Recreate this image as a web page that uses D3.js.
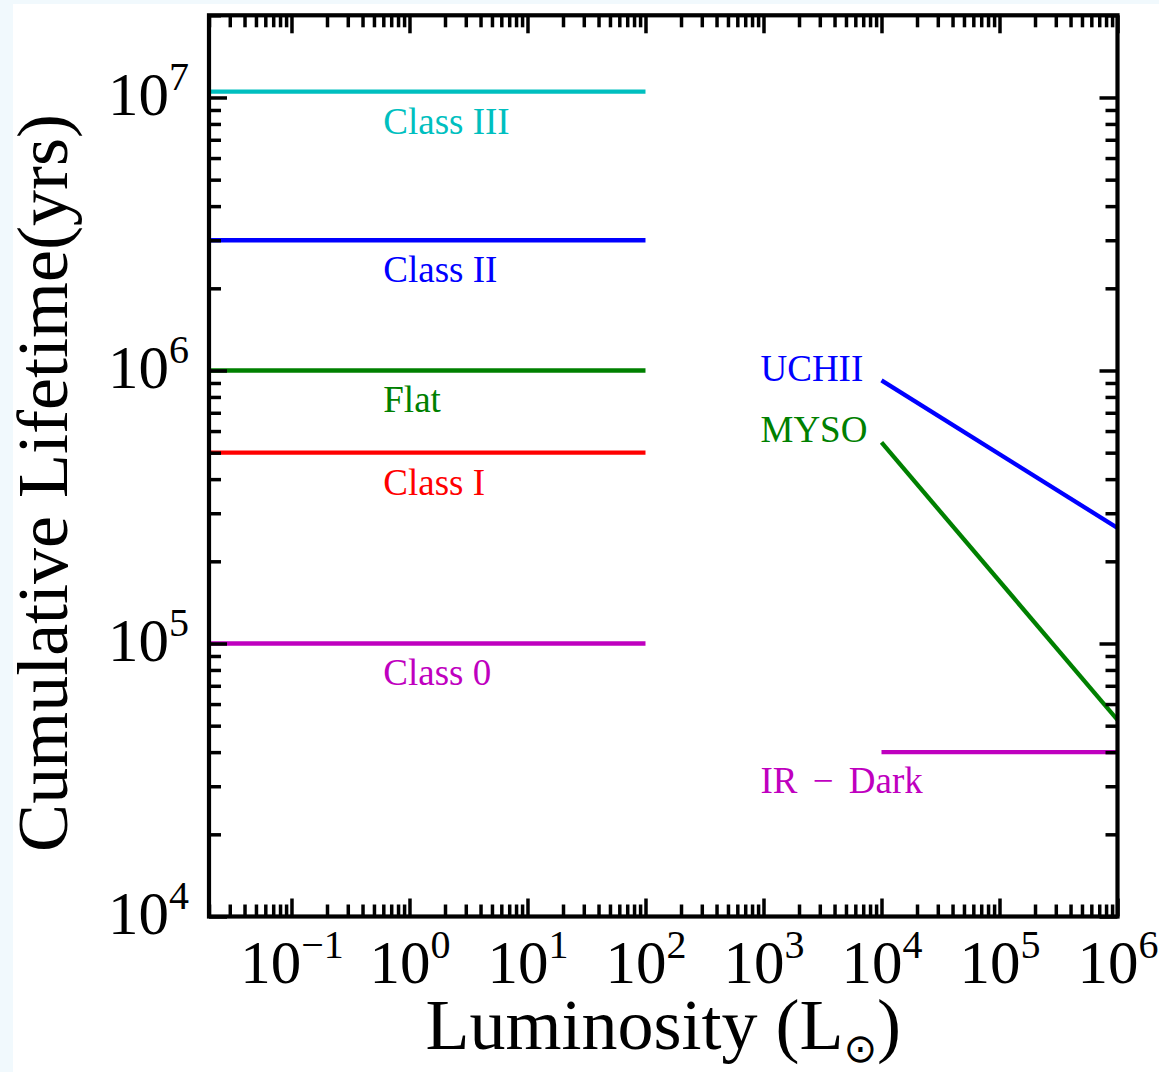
<!DOCTYPE html>
<html>
<head>
<meta charset="utf-8">
<script src="https://cdn.jsdelivr.net/npm/d3@7"></script>
<style>
  html, body { margin: 0; padding: 0; background: #f1f9fd; }
  svg { display: block; }
</style>
</head>
<body>
<svg id="chart" width="1159" height="1072"></svg>
<script>
// Low-luminosity YSO classes: constant cumulative lifetimes up to 100 Lsun
const yscClasses = ["Class III", "Class II", "Flat", "Class I", "Class 0"];
const yscLifetimes = [1.05e7, 3e6, 1e6, 5e5, 1e5];
const yscLumRange = [0.02, 100];
const yscColors = ["#00bfbf", "#0000ff", "#008000", "#ff0000", "#bf00bf"];

// Massive star-formation phases: lifetime at the two ends of the luminosity range
const massivePhases = ["UCHII", "MYSO", "IR \u2212 Dark"];
const massiveLumRange = [1e4, 1e6];
const massiveLifetimeLow = [9.2e5, 5.45e5, 4e4];
const massiveLifetimeHigh = [2.65e5, 5.25e4, 4e4];
const massiveColors = ["#0000ff", "#008000", "#bf00bf"];

// Axis decades
const xMajorExponents = [-1, 0, 1, 2, 3, 4, 5, 6];
const yMajorExponents = [4, 5, 6, 7];
const xDomain = [0.02, 1e6];
const yDomain = [1e4, 2e7];

const W = 1159, H = 1072;
const plot = { left: 209, right: 1117.5, top: 15.3, bottom: 916.5 };
const FONT = "'Liberation Serif', 'Times New Roman', serif";

const svg = d3.select("#chart");

// page background with a faint tinted margin
svg.append("rect").attr("width", W).attr("height", H).attr("fill", "#f1f9fd");
svg.append("rect").attr("x", 13).attr("y", 4).attr("width", W - 13).attr("height", H - 4).attr("fill", "#ffffff");

const x = d3.scaleLog().domain(xDomain).range([plot.left, plot.right]);
const y = d3.scaleLog().domain(yDomain).range([plot.bottom, plot.top]);

const clipId = "plot-clip";
svg.append("clipPath").attr("id", clipId).append("rect")
  .attr("x", plot.left).attr("y", plot.top)
  .attr("width", plot.right - plot.left).attr("height", plot.bottom - plot.top);

const line = d3.line().x(d => x(d[0])).y(d => y(d[1]));
const marks = svg.append("g").attr("clip-path", `url(#${clipId})`);

// horizontal lifetime lines for the low-mass classes
yscClasses.forEach((name, i) => {
  const v = yscLifetimes[i];
  marks.append("path")
    .datum([[yscLumRange[0], v], [yscLumRange[1], v]])
    .attr("d", line)
    .attr("fill", "none").attr("stroke", yscColors[i]).attr("stroke-width", 4.3);
  svg.append("text")
    .attr("x", x(0.6)).attr("y", y(v) + 42)
    .attr("font-family", FONT).attr("font-size", 37)
    .attr("fill", yscColors[i])
    .text(name);
});

// massive-star phases
const massiveLabelDy = [1, 0, 41];
massivePhases.forEach((name, i) => {
  marks.append("path")
    .datum([[massiveLumRange[0], massiveLifetimeLow[i]], [massiveLumRange[1], massiveLifetimeHigh[i]]])
    .attr("d", line)
    .attr("fill", "none").attr("stroke", massiveColors[i]).attr("stroke-width", 4.3);
  svg.append("text")
    .attr("x", x(massiveLumRange[0]) - 121)
    .attr("y", y(massiveLifetimeLow[i]) + massiveLabelDy[i])
    .attr("font-family", FONT).attr("font-size", 37)
    .attr("word-spacing", name.includes("\u2212") ? 6 : 0)
    .attr("fill", massiveColors[i])
    .text(name);
});

// tick values
function minorTicks(domain) {
  const out = [];
  const lo = Math.floor(Math.log10(domain[0])), hi = Math.ceil(Math.log10(domain[1]));
  for (let k = lo; k <= hi; k++) {
    for (let m = 2; m <= 9; m++) {
      const v = m * Math.pow(10, k);
      if (v >= domain[0] && v <= domain[1]) out.push(v);
    }
  }
  return out;
}
const xMajors = xMajorExponents.map(e => Math.pow(10, e));
const yMajors = yMajorExponents.map(e => Math.pow(10, e));
const xMinors = minorTicks(xDomain);
const yMinors = minorTicks(yDomain);

const MAJOR = 18, MINOR = 12, TICKW = 3.5;

function addAxis(axisFn, scale, values, size, transform) {
  const g = svg.append("g").attr("transform", transform)
    .call(axisFn(scale).tickValues(values).tickSizeInner(-size).tickSizeOuter(0).tickFormat(() => ""));
  g.select(".domain").remove();
  g.selectAll(".tick line").attr("stroke", "#000").attr("stroke-width", TICKW);
  g.selectAll(".tick text").remove();
  return g;
}

// ticks on all four sides, pointing inward
addAxis(d3.axisBottom, x, xMinors, MINOR, `translate(0,${plot.bottom})`);
const xBottom = addAxis(d3.axisBottom, x, xMajors, MAJOR, `translate(0,${plot.bottom})`);
addAxis(d3.axisTop, x, xMinors, MINOR, `translate(0,${plot.top})`);
addAxis(d3.axisTop, x, xMajors, MAJOR, `translate(0,${plot.top})`);
addAxis(d3.axisLeft, y, yMinors, MINOR, `translate(${plot.left},0)`);
const yLeft = addAxis(d3.axisLeft, y, yMajors, MAJOR, `translate(${plot.left},0)`);
addAxis(d3.axisRight, y, yMinors, MINOR, `translate(${plot.right},0)`);
addAxis(d3.axisRight, y, yMajors, MAJOR, `translate(${plot.right},0)`);

// power-of-ten tick labels
function powerLabel(sel, exp, anchor) {
  const t = sel.append("text")
    .attr("font-family", FONT).attr("fill", "#000")
    .attr("text-anchor", anchor);
  t.append("tspan").attr("font-size", 61).text("10");
  t.append("tspan").attr("font-size", 40).attr("dy", -25)
    .text(exp < 0 ? "\u2212" + Math.abs(exp) : String(exp));
  return t;
}
xBottom.selectAll(".tick").each(function(d) {
  powerLabel(d3.select(this), Math.round(Math.log10(d)), "middle").attr("y", 66);
});
yLeft.selectAll(".tick").each(function(d) {
  powerLabel(d3.select(this), Math.round(Math.log10(d)), "end").attr("x", -20).attr("y", 17);
});

// frame
svg.append("rect")
  .attr("x", plot.left).attr("y", plot.top)
  .attr("width", plot.right - plot.left).attr("height", plot.bottom - plot.top)
  .attr("fill", "none").attr("stroke", "#000").attr("stroke-width", 4.2);

// axis titles
const xTitle = svg.append("text")
  .attr("x", (plot.left + plot.right) / 2).attr("y", 1049)
  .attr("text-anchor", "middle")
  .attr("font-family", FONT).attr("font-size", 72).attr("fill", "#000");
xTitle.append("tspan").text("Luminosity (L");
xTitle.append("tspan").attr("font-size", 40).attr("dy", 13)
  .attr("font-family", "'DejaVu Sans', sans-serif").text("\u2299");
xTitle.append("tspan").attr("dy", -13).text(")");

svg.append("text")
  .attr("transform", "translate(67,483) rotate(-90)")
  .attr("text-anchor", "middle")
  .attr("font-family", FONT).attr("font-size", 72).attr("fill", "#000")
  .text("Cumulative Lifetime(yrs)");
</script>
</body>
</html>
